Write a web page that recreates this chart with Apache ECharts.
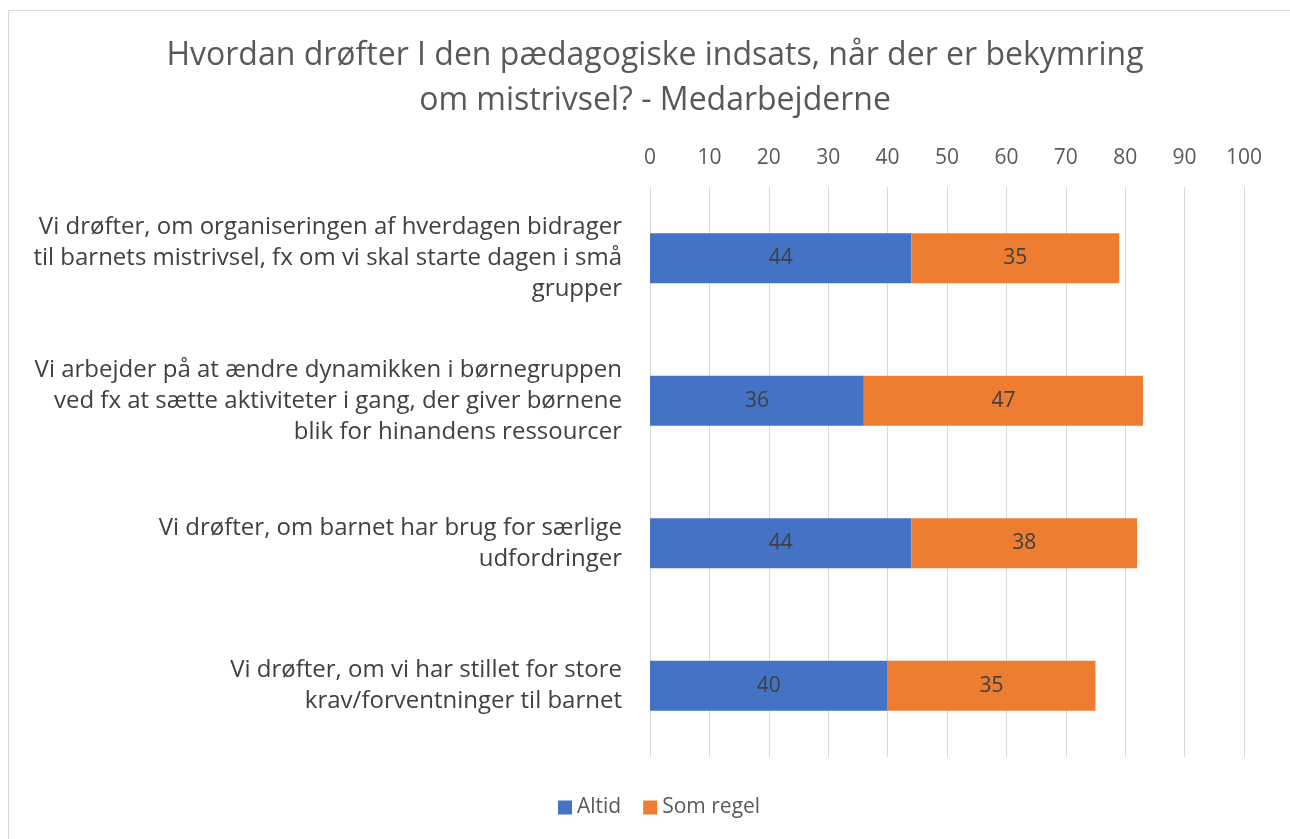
<!DOCTYPE html>
<html>
<head>
<meta charset="utf-8">
<script src="https://cdn.jsdelivr.net/npm/echarts@6/dist/echarts.min.js"></script>
<style>
  html, body { margin: 0; padding: 0; background: #fff; }
  #chart { width: 1290px; height: 839px; }
</style>
</head>
<body>
<div id="chart"></div>
<script>
// kategorier (top til bund)
var categories = [
    'Vi drøfter, om organiseringen af hverdagen bidrager\ntil barnets mistrivsel, fx om vi skal starte dagen i små\ngrupper',
    'Vi arbejder på at ændre dynamikken i børnegruppen\nved fx at sætte aktiviteter i gang, der giver børnene\nblik for hinandens ressourcer',
    'Vi drøfter, om barnet har brug for særlige\nudfordringer',
    'Vi drøfter, om vi har stillet for store\nkrav/forventninger til barnet'
]
var altid = [44, 36, 44, 40]
var somRegel = [35, 47, 38, 35]
var xTicks = [0, 10, 20, 30, 40, 50, 60, 70, 80, 90, 100]

var font = 'Open Sans'
var chart = echarts.init(document.getElementById('chart'))
var option = {
    animation: false,
    textStyle: { fontFamily: font },
    title: {
        text: 'Hvordan drøfter I den pædagogiske indsats, når der er bekymring\nom mistrivsel? - Medarbejderne',
        left: 650,
        top: 28,
        textAlign: 'center',
        textStyle: {
            fontFamily: font,
            fontSize: 32,
            fontWeight: 'normal',
            color: '#595959',
            lineHeight: 45
        }
    },
    graphic: [{
        type: 'rect',
        shape: { x: 8.5, y: 10.5, width: 1300, height: 900 },
        style: { fill: 'none', stroke: '#d9d9d9', lineWidth: 1 },
        silent: true
    }],
    legend: {
        bottom: 16,
        left: 553,
        itemWidth: 14,
        itemHeight: 14,
        itemGap: 22,
        icon: 'rect',
        textStyle: { fontFamily: font, fontSize: 21, color: '#595959' },
        data: ['Altid', 'Som regel']
    },
    grid: {
        left: 650,
        width: 594,
        top: 187,
        height: 570
    },
    xAxis: {
        type: 'value',
        position: 'top',
        min: 0,
        max: 100,
        interval: 10,
        axisLine: { show: false },
        axisTick: { show: false },
        axisLabel: {
            color: '#595959',
            fontSize: 21,
            margin: 18,
            formatter: function (v) { return xTicks.indexOf(v) >= 0 ? String(v) : '' }
        },
        splitLine: { lineStyle: { color: '#d9d9d9', width: 1 } }
    },
    yAxis: {
        type: 'category',
        inverse: true,
        data: categories,
        axisLine: { show: false },
        axisTick: { show: false },
        axisLabel: {
            color: '#404040',
            fontSize: 24,
            lineHeight: 31,
            margin: 28,
            align: 'right'
        }
    },
    series: [
        {
            name: 'Altid',
            type: 'bar',
            stack: 'a',
            barWidth: 50,
            data: altid,
            itemStyle: { color: '#4472c4' },
            label: { show: true, position: 'inside', color: '#404040', fontSize: 21, fontFamily: font }
        },
        {
            name: 'Som regel',
            type: 'bar',
            stack: 'a',
            barWidth: 50,
            data: somRegel,
            itemStyle: { color: '#ed7d31' },
            label: { show: true, position: 'inside', color: '#404040', fontSize: 21, fontFamily: font }
        }
    ]
}
chart.setOption(option)
</script>
</body>
</html>
